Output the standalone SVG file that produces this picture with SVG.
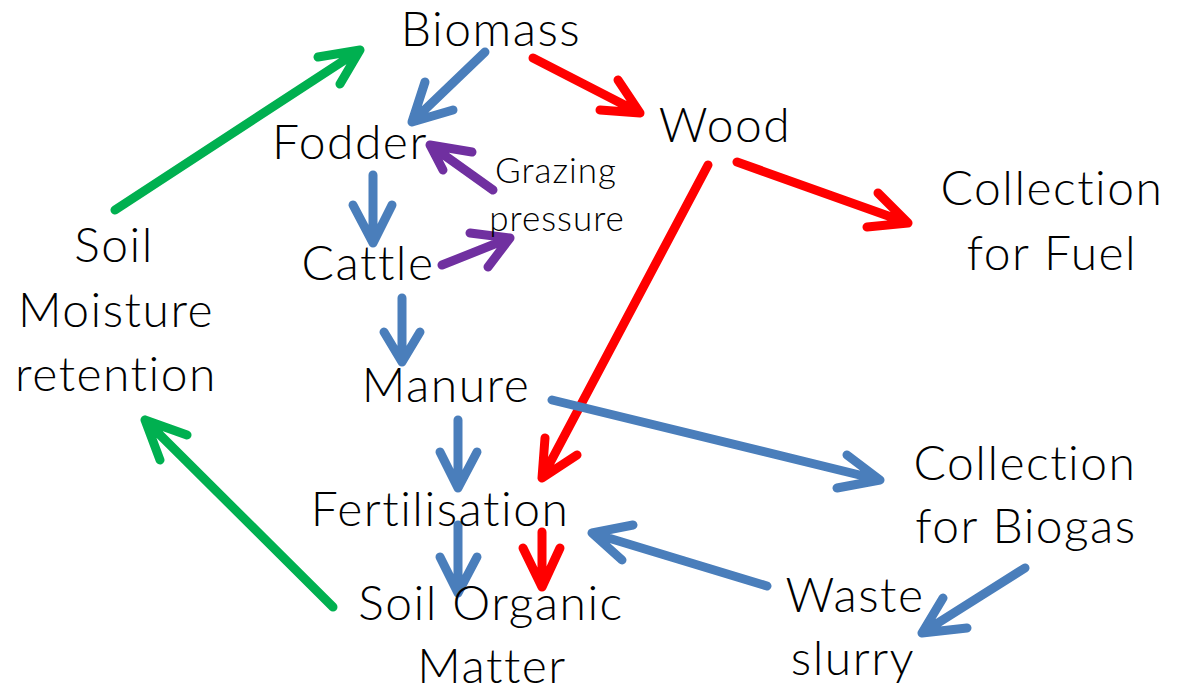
<svg xmlns="http://www.w3.org/2000/svg" width="1178" height="696" viewBox="0 0 1178 696">
<style>
  .lbl { font-family: "Lato", "Open Sans", "Liberation Sans", sans-serif; font-size: 48px; font-weight: 300; letter-spacing: 1.5px; fill: #000; text-anchor: middle; }
  .sm { font-size: 35px; letter-spacing: 1px; }
  .a { fill: none; stroke-width: 9; stroke-linecap: round; stroke-linejoin: round; }
  .blue { stroke: #4A7EBB; }
  .red { stroke: #FF0000; }
  .green { stroke: #00B050; }
  .purple { stroke: #7030A0; }
</style>
<rect width="1178" height="696" fill="#fff"/>
<g id="connectors">
  <path class="a green" d="M115,210 L360,50 M318,57 L360,50 L340,84"/>
  <path class="a blue" d="M485,52 L412,122 M425,82 L412,122 L453,110"/>
  <path class="a red" d="M533,58 L640,113 M618,80 L640,113 L600,110"/>
  <path class="a purple" d="M493,190 L430,145 M472,152 L430,145 L443,170"/>
  <path class="a blue" d="M373,175 L373,243 M353,205 L373,243 L392,205"/>
  <path class="a purple" d="M442,265 L510,238 M470,233 L510,238 L488,267"/>
  <path class="a blue" d="M402,298 L402,362 M384,332 L402,362 L420,332"/>
  <path class="a red" d="M737,162 L908,223 M878,193 L908,223 L867,227"/>
  <path class="a red" d="M708,165 L542,478 M545,438 L542,478 L577,455"/>
  <path class="a blue" d="M552,400 L880,480 M847,455 L880,480 L837,488"/>
  <path class="a blue" d="M458,420 L458,488 M440,452 L458,488 L477,452"/>
  <path class="a blue" d="M458,525 L458,593 M440,557 L458,593 L477,557"/>
  <path class="a red" d="M542,532 L542,587 M523,548 L542,587 L560,548"/>
  <path class="a blue" d="M1025,568 L922,633 M943,598 L922,633 L967,628"/>
  <path class="a blue" d="M767,586 L592,533 M633,525 L592,533 L622,560"/>
  <path class="a green" d="M333,607 L145,420 M187,435 L145,420 L160,460"/>
</g>
<g id="biomass"><text class="lbl" x="491" y="46">Biomass</text></g>
<g id="fodder"><text class="lbl" x="350" y="159">Fodder</text></g>
<g id="wood"><text class="lbl" x="725" y="142">Wood</text></g>
<g id="grazing"><text class="lbl sm" x="556" y="183">Grazing</text><text class="lbl sm" x="557" y="231">pressure</text></g>
<g id="cattle"><text class="lbl" x="368" y="280">Cattle</text></g>
<g id="fuel"><text class="lbl" x="1052" y="205">Collection</text><text class="lbl" x="1052" y="270">for Fuel</text></g>
<g id="moisture"><text class="lbl" x="114" y="262">Soil</text><text class="lbl" x="116" y="327">Moisture</text><text class="lbl" x="116" y="391">retention</text></g>
<g id="manure"><text class="lbl" x="446" y="402">Manure</text></g>
<g id="biogas"><text class="lbl" x="1025" y="480">Collection</text><text class="lbl" x="1026" y="543">for Biogas</text></g>
<g id="fertilisation"><text class="lbl" x="440" y="526">Fertilisation</text></g>
<g id="som"><text class="lbl" x="491" y="620">Soil Organic</text><text class="lbl" x="492" y="683">Matter</text></g>
<g id="slurry"><text class="lbl" x="855" y="612">Waste</text><text class="lbl" x="853" y="675">slurry</text></g>
</svg>
